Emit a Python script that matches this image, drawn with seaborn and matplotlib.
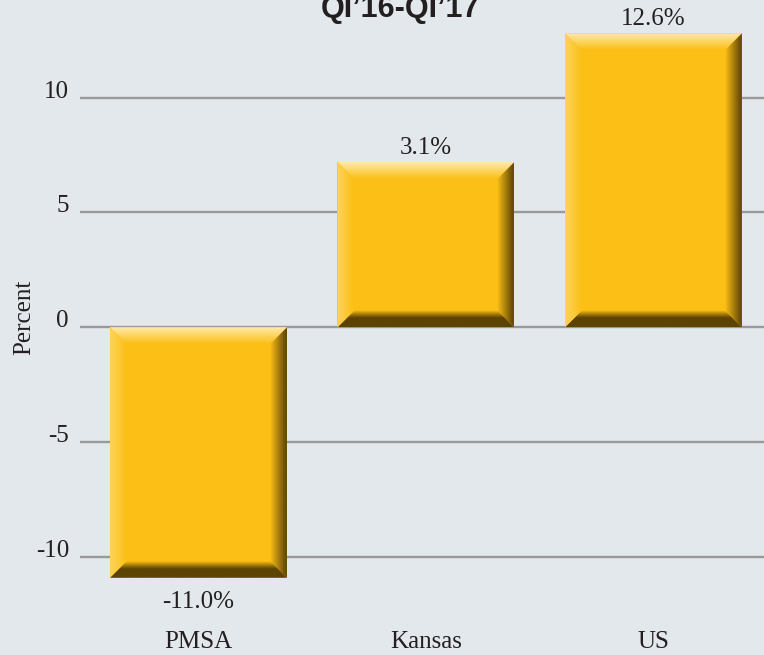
import numpy as np
import pandas as pd
import matplotlib
matplotlib.use("Agg")
import matplotlib.pyplot as plt
from matplotlib.patches import Polygon
import seaborn as sns

# ---- data ----
categories = ["PMSA", "Kansas", "US"]
bar_values = [-10.9, 7.2, 12.8]
value_labels = ["-11.0%", "3.1%", "12.6%"]
y_ticks = [-10, -5, 0, 5, 10]
title_text = "QI\u201916-QI\u201917"
y_label = "Percent"

df = pd.DataFrame({"cat": categories, "val": bar_values})

BG = "#e3e8ec"
MAIN = np.array([251, 191, 21]) / 255
TOP_OUT = np.array([255, 234, 170]) / 255
LEFT_OUT = np.array([254, 212, 90]) / 255
DARK = np.array([92, 67, 3]) / 255
RIGHT_OUT = np.array([105, 77, 6]) / 255

sns.set_theme(style="white")
plt.rcParams["font.family"] = ["Liberation Serif", "DejaVu Serif"]

W, H = 764, 655
fig = plt.figure(figsize=(W / 100, H / 100), dpi=100, facecolor=BG)
ax_bottom_px = 600
ax = fig.add_axes([80 / W, 1 - ax_bottom_px / H, (W - 80) / W, ax_bottom_px / H])
ax.set_facecolor(BG)

sns.barplot(data=df, x="cat", y="val", order=categories, color=MAIN,
            saturation=1, width=0.778, edgecolor="none", linewidth=0, ax=ax,
            zorder=2)

ax.set_xlim(-0.521, 2.486)
ax.set_ylim(-11.87, 14.25)
ax.set_yticks(y_ticks)
ax.set_yticklabels([str(t) for t in y_ticks])
ax.grid(axis="y", color="#9a9a9a", linewidth=1.7)
ax.grid(axis="x", visible=False)
ax.set_axisbelow(True)
for s in ax.spines.values():
    s.set_visible(False)
ax.tick_params(axis="both", length=0, labelsize=18, colors="#231f20")
ax.tick_params(axis="y", pad=8)
ax.tick_params(axis="x", pad=22)
for lab in ax.get_yticklabels():
    lab.set_verticalalignment("baseline")
ax.set_xlabel("")
ax.set_ylabel(y_label, fontsize=18, color="#231f20")
ax.yaxis.set_label_coords(-0.066, (ax_bottom_px - 317) / ax_bottom_px)

# ---- bevel effect derived from the drawn bars ----
px_x = (W - 80) / (2.486 + 0.521)
px_y = ax_bottom_px / (14.25 + 11.87)
bev = 17
dx, dy = bev / px_x, bev / px_y
n = 64


def grad(c_out, c_in, t_hold=0.0):
    t = np.linspace(0, 1, n)
    t = np.clip((t - t_hold) / (1 - t_hold), 0, 1)
    cols = c_out[None, :] * (1 - t[:, None]) + c_in[None, :] * t[:, None]
    return np.concatenate([cols, np.ones((n, 1))], axis=1)


for p in ax.patches:
    x0 = p.get_x()
    x1 = x0 + p.get_width()
    ya, yb = p.get_y(), p.get_y() + p.get_height()
    ytop, ybot = max(ya, yb), min(ya, yb)
    sides = {
        "top": ([(x0, ytop), (x1, ytop), (x1 - dx, ytop - dy), (x0 + dx, ytop - dy)],
                grad(TOP_OUT, MAIN)[::-1].reshape(n, 1, 4), [x0, x1, ytop - dy, ytop]),
        "bottom": ([(x0, ybot), (x1, ybot), (x1 - dx, ybot + dy), (x0 + dx, ybot + dy)],
                   grad(DARK, MAIN, 0.55).reshape(n, 1, 4), [x0, x1, ybot, ybot + dy]),
        "left": ([(x0, ytop), (x0 + dx, ytop - dy), (x0 + dx, ybot + dy), (x0, ybot)],
                 grad(LEFT_OUT, MAIN).reshape(1, n, 4), [x0, x0 + dx, ybot, ytop]),
        "right": ([(x1, ytop), (x1 - dx, ytop - dy), (x1 - dx, ybot + dy), (x1, ybot)],
                  grad(RIGHT_OUT, MAIN, 0.1)[::-1].reshape(1, n, 4), [x1 - dx, x1, ybot, ytop]),
    }
    for name, (poly, img, ext) in sides.items():
        clip = Polygon(poly, closed=True, transform=ax.transData, facecolor="none",
                       edgecolor="none")
        ax.add_patch(clip)
        im = ax.imshow(img, extent=ext, origin="lower", aspect="auto",
                       interpolation="bilinear", zorder=3)
        im.set_clip_path(clip)

ax.set_xlim(-0.521, 2.486)
ax.set_ylim(-11.87, 14.25)

# ---- value labels ----
for i, (v, lab) in enumerate(zip(bar_values, value_labels)):
    off = 5.8 if v >= 0 else -21.6
    ax.annotate(lab, xy=(i, v), xytext=(0, off), textcoords="offset points",
                ha="center", va="baseline", fontsize=18, color="#231f20", zorder=5)

# ---- title (cropped at top as in the reference) ----
fig.text(400.5 / W, 1 - 17 / H, title_text, ha="center", va="baseline",
         fontsize=22, fontweight="bold", family=["Liberation Sans", "DejaVu Sans"],
         color="#231f20")

fig.savefig("out.png", dpi=100, facecolor=BG)
